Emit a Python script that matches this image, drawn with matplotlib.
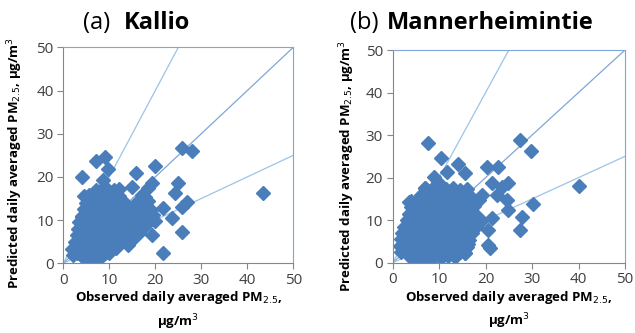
import matplotlib
matplotlib.use("Agg")
import matplotlib.pyplot as plt

plt.rcParams['font.family'] = ['Open Sans', 'DejaVu Sans']

# Kallio: observed / predicted daily PM2.5
kallio_obs = [
    # scattered points outside the main cloud
    25.7, 27.9, 43.5, 7.2, 9.1, 9.8, 4.0, 19.9, 15.9, 8.7, 25.0, 24.3, 26.8,
    25.7, 25.7, 21.7, 23.6, 21.7, 19.2, 4.0, 14.9, 19.2, 17.8, 14.1,
    # main cloud
    4.5, 5.5, 6.5, 7.5, 8.5,
    2.0, 3.0, 4.0, 5.0, 6.0, 7.0, 8.0, 9.0, 10.0,
    1.8, 3.0, 4.2, 5.5, 6.5, 7.5, 8.5, 9.5, 10.5, 11.5,
    2.5, 3.5, 4.5, 5.5, 6.5, 7.5, 8.5, 9.5, 10.5, 11.5, 12.5, 14.0, 15.0,
    3.0, 4.0, 5.0, 6.0, 7.0, 8.0, 9.0, 10.0, 11.0, 12.0, 13.0, 15.0, 16.5,
    3.2, 4.5, 5.5, 6.5, 7.5, 8.5, 9.5, 10.5, 11.5, 12.5, 13.5, 14.5, 16.0, 17.5,
    3.5, 4.5, 5.5, 6.5, 7.5, 8.5, 9.5, 10.5, 11.5, 12.5, 13.5, 14.5, 15.5, 17.0, 18.5, 20.0,
    4.0, 5.0, 6.0, 7.0, 8.0, 9.0, 10.0, 11.0, 12.0, 13.0, 14.0, 15.0, 16.0, 17.0, 18.0, 19.5,
    4.5, 5.5, 6.5, 7.5, 8.5, 9.5, 10.5, 11.5, 12.5, 13.5, 14.5, 16.0, 17.0, 18.0, 19.0,
    5.0, 6.0, 7.0, 8.0, 9.0, 10.0, 11.0, 12.0, 13.5, 16.0, 17.5, 18.5,
    4.5, 5.5, 6.5, 7.5, 8.5, 9.5, 10.5, 12.0, 17.0,
    7.0, 8.0, 9.5, 11.0, 12.0, 18.5,
]
kallio_pred = [
    26.7, 26.0, 16.3, 23.6, 24.6, 21.9, 20.0, 22.5, 20.8, 19.2, 18.5, 16.3, 14.2,
    13.1, 7.3, 2.5, 10.4, 12.7, 6.5, 10.8, 17.7, 18.5, 15.4, 4.2,
    1.2, 0.6, 1.0, 1.4, 1.8,
    2.0, 2.3, 1.8, 2.2, 2.0, 2.4, 2.1, 2.5, 2.3,
    3.4, 3.6, 3.3, 3.5, 3.7, 3.4, 3.6, 3.5, 3.8, 3.6,
    5.0, 5.2, 4.9, 5.1, 5.3, 4.8, 5.0, 5.2, 4.9, 5.1, 5.0, 4.6, 5.4,
    6.5, 6.7, 6.4, 6.6, 6.5, 6.8, 6.3, 6.6, 6.5, 6.7, 6.4, 6.6, 7.0,
    8.0, 8.2, 7.9, 8.1, 8.0, 8.3, 7.8, 8.1, 8.0, 8.2, 7.9, 8.1, 8.0, 8.4,
    9.5, 9.7, 9.4, 9.6, 9.5, 9.8, 9.3, 9.6, 9.5, 9.7, 9.4, 9.6, 9.5, 9.8, 9.4, 9.9,
    11.0, 11.2, 10.9, 11.1, 11.0, 11.3, 10.8, 11.1, 11.0, 11.2, 10.9, 11.1, 11.0, 11.3, 10.8, 11.2,
    12.5, 12.7, 12.4, 12.6, 12.5, 12.8, 12.3, 12.6, 12.5, 12.7, 12.4, 12.6, 12.5, 12.8, 12.4,
    14.0, 14.2, 13.9, 14.1, 14.0, 14.3, 13.8, 14.1, 14.0, 14.2, 13.9, 14.4,
    15.5, 15.7, 15.4, 15.6, 15.5, 15.8, 15.3, 15.6, 15.9,
    17.0, 16.8, 17.2, 16.9, 17.1, 17.4,
]

# Mannerheimintie
manner_obs = [
    7.7, 27.3, 29.8, 40.0, 10.5, 14.1, 11.6, 15.6, 20.2, 22.7, 8.8, 9.8, 21.3,
    24.9, 23.5, 22.4, 24.5, 24.9, 30.3, 27.8, 27.5, 21.3, 20.6, 20.6, 20.9,
    16.3, 15.6, 3.6, 7.0, 19.2, 18.4,
    4.0, 5.0, 6.0, 7.5, 9.0, 10.5, 12.0, 13.5,
    1.8, 2.8, 3.8, 5.0, 6.0, 7.0, 8.0, 9.0, 10.0, 11.0, 12.0, 13.0, 14.5, 15.5,
    1.6, 2.6, 3.6, 4.6, 5.6, 6.6, 7.6, 8.6, 9.6, 10.6, 11.6, 12.6, 13.6, 14.6, 16.0,
    1.7, 2.7, 3.7, 4.7, 5.7, 6.7, 7.7, 8.7, 9.7, 10.7, 11.7, 12.7, 13.7, 14.7, 16.5,
    2.0, 3.0, 4.0, 5.0, 6.0, 7.0, 8.0, 9.0, 10.0, 11.0, 12.0, 13.0, 14.0, 15.0, 17.0,
    2.5, 3.5, 4.5, 5.5, 6.5, 7.5, 8.5, 9.5, 10.5, 11.5, 12.5, 13.5, 14.5, 16.0, 18.0,
    3.0, 4.0, 5.0, 6.0, 7.0, 8.0, 9.0, 10.0, 11.0, 12.0, 13.0, 14.0, 15.0, 17.5, 19.0,
    3.5, 4.5, 5.5, 6.5, 7.5, 8.5, 9.5, 10.5, 11.5, 12.5, 13.5, 14.5, 15.5, 16.5,
    4.0, 5.0, 6.0, 7.0, 8.0, 9.0, 10.0, 11.0, 12.0, 13.0, 14.0, 15.0, 16.0, 17.5,
    4.0, 5.5, 6.5, 7.5, 8.5, 9.5, 10.5, 11.5, 12.5, 13.5, 14.5, 15.5, 16.5, 18.5,
    6.0, 7.0, 8.0, 9.0, 10.0, 11.0, 12.0, 13.0, 14.0, 15.0, 16.5,
    7.0, 8.5, 10.0, 11.5, 13.0, 14.5, 16.0,
]
manner_pred = [
    28.1, 28.8, 26.3, 18.1, 24.5, 23.1, 21.4, 21.0, 22.4, 22.4, 20.2, 19.0, 18.7,
    18.7, 17.9, 15.9, 14.7, 12.4, 13.9, 10.8, 7.7, 10.4, 7.7, 4.2, 3.4,
    4.5, 2.2, 14.3, 17.5, 15.9, 10.8,
    1.0, 1.3, 0.9, 1.2, 1.4, 1.1, 1.5, 1.3,
    2.5, 2.7, 2.4, 2.6, 2.5, 2.8, 2.3, 2.6, 2.5, 2.7, 2.4, 2.6, 2.5, 2.2,
    4.0, 4.2, 3.9, 4.1, 4.0, 4.3, 3.8, 4.1, 4.0, 4.2, 3.9, 4.1, 4.0, 4.3, 3.8,
    5.5, 5.7, 5.4, 5.6, 5.5, 5.8, 5.3, 5.6, 5.5, 5.7, 5.4, 5.6, 5.5, 5.8, 5.4,
    7.0, 7.2, 6.9, 7.1, 7.0, 7.3, 6.8, 7.1, 7.0, 7.2, 6.9, 7.1, 7.0, 7.3, 6.9,
    8.5, 8.7, 8.4, 8.6, 8.5, 8.8, 8.3, 8.6, 8.5, 8.7, 8.4, 8.6, 8.5, 8.8, 8.4,
    10.0, 10.2, 9.9, 10.1, 10.0, 10.3, 9.8, 10.1, 10.0, 10.2, 9.9, 10.1, 10.0, 10.3, 9.9,
    11.5, 11.7, 11.4, 11.6, 11.5, 11.8, 11.3, 11.6, 11.5, 11.7, 11.4, 11.6, 11.5, 11.8,
    13.0, 13.2, 12.9, 13.1, 13.0, 13.3, 12.8, 13.1, 13.0, 13.2, 12.9, 13.1, 13.0, 13.3,
    14.5, 14.7, 14.4, 14.6, 14.5, 14.8, 14.3, 14.6, 14.5, 14.7, 14.4, 14.6, 14.5, 14.8,
    16.0, 16.2, 15.9, 16.1, 16.0, 16.3, 15.8, 16.1, 16.0, 16.2, 15.9,
    17.5, 17.3, 17.6, 17.4, 17.5, 17.2, 17.4,
]

ref_x = [0, 50]
ticks = [0, 10, 20, 30, 40, 50]

marker_col = '#4a7ebb'
line_light = '#9dc3e6'
line_mid = '#7fa6d6'

fig = plt.figure(figsize=(6.35, 3.33), dpi=100)
axes_pos = [[0.0997, 0.2093, 0.3622, 0.6486], [0.6184, 0.2111, 0.3658, 0.6387]]
ylab_xy = [(-0.167, 0.465), (-0.154, 0.455)]
panels = [(kallio_obs, kallio_pred), (manner_obs, manner_pred)]

for pos, lab_xy, (xo, yp) in zip(axes_pos, ylab_xy, panels):
    ax = fig.add_axes(pos)
    # 2:1, 1:1 and 1:2 reference lines
    ax.plot(ref_x, [2 * v for v in ref_x], color=line_light, lw=0.9, zorder=1)
    ax.plot(ref_x, ref_x, color=line_mid, lw=0.9, zorder=1)
    ax.plot(ref_x, [0.5 * v for v in ref_x], color=line_light, lw=0.9, zorder=1)
    ax.plot(xo, yp, 'D', ms=7.5, color=marker_col, mec=marker_col, ls='none', zorder=2)
    ax.set_xlim(0, 50)
    ax.set_ylim(0, 50)
    ax.set_xticks(ticks)
    ax.set_yticks(ticks)
    ax.tick_params(direction='out', length=4, color='#868686', labelsize=11,
                   labelcolor='#404040', pad=3)
    for s in ['left', 'bottom']:
        ax.spines[s].set_color('#868686')
    for s in ['top', 'right']:
        ax.spines[s].set_color('#7fa6d6')
    ax.set_ylabel('Predicted daily averaged PM$_{2.5}$, μg/m$^3$', fontsize=9.5,
                  fontweight='bold')
    ax.yaxis.set_label_coords(*lab_xy)
    ax.set_xlabel('Observed daily averaged PM$_{2.5}$,\nμg/m$^3$', fontsize=9.5,
                  fontweight='bold', labelpad=1, linespacing=1.4)

fig.text(0.131, 0.93, '(a)', fontsize=17, ha='left', va='center')
fig.text(0.195, 0.93, 'Kallio', fontsize=17, fontweight='bold', ha='left', va='center')
fig.text(0.551, 0.93, '(b)', fontsize=17, ha='left', va='center')
fig.text(0.609, 0.93, 'Mannerheimintie', fontsize=17, fontweight='bold', ha='left', va='center')

fig.savefig('out.png', dpi=100)
